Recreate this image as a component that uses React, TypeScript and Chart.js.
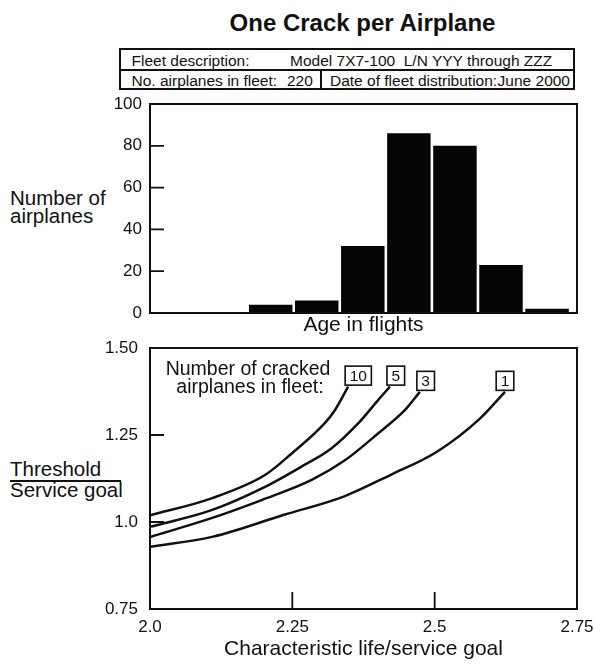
import React, { useEffect, useRef } from 'react';
import { Chart, registerables } from 'chart.js';

Chart.register(...registerables);

// ---------- data ----------
const ageBins = [1, 2, 3, 4, 5, 6, 7, 8, 9];
const airplaneCounts = [0, 0, 4, 6, 32, 86, 80, 23, 2];
const countTicks = [0, 20, 40, 60, 80, 100];

const crackLabels = ['10', '5', '3', '1'];
const life10 = [2.0, 2.108, 2.202, 2.249, 2.307, 2.325, 2.348];
const thr10 = [1.019, 1.068, 1.135, 1.197, 1.284, 1.322, 1.389];
const life5 = [2.0, 2.108, 2.202, 2.266, 2.319, 2.366, 2.401, 2.4215];
const thr5 = [0.986, 1.034, 1.101, 1.159, 1.212, 1.284, 1.351, 1.389];
const life3 = [2.0, 2.108, 2.196, 2.284, 2.343, 2.401, 2.448, 2.474];
const thr3 = [0.957, 1.011, 1.063, 1.121, 1.178, 1.255, 1.322, 1.374];
const life1 = [2.0, 2.111, 2.234, 2.34, 2.422, 2.504, 2.58, 2.6235];
const thr1 = [0.929, 0.958, 1.02, 1.073, 1.135, 1.202, 1.298, 1.374];

const lifeTicks = [2.0, 2.25, 2.5, 2.75];
const lifeTickLabels = ['2.0', '2.25', '2.5', '2.75'];
const ratioTicks = [0.75, 1.0, 1.25, 1.5];
const ratioTickLabels = ['0.75', '1.0', '1.25', '1.50'];

// ---------- style ----------
const INK = '#111111';
const FAMILY = "'Liberation Sans', Arial, Helvetica, sans-serif";
const labelAnchors = ['start', 'start', 'start', 'center'];

const makeFrame = (yTicks: number[], yLen: number, xTicks: number[], xLen: number) => ({
  id: 'frameTicks',
  afterDatasetsDraw(chart: any) {
    const { ctx, chartArea: a, scales } = chart;
    ctx.save();
    ctx.strokeStyle = INK;
    ctx.lineWidth = 2;
    ctx.strokeRect(a.left, a.top, a.right - a.left, a.bottom - a.top);
    ctx.lineWidth = 1.8;
    ctx.beginPath();
    yTicks.forEach((v) => {
      const p = scales.y.getPixelForValue(v);
      ctx.moveTo(a.left, p);
      ctx.lineTo(a.left + yLen, p);
    });
    xTicks.forEach((v) => {
      const p = scales.x.getPixelForValue(v);
      ctx.moveTo(p, a.bottom);
      ctx.lineTo(p, a.bottom - xLen);
    });
    ctx.stroke();
    ctx.restore();
  },
});

const makeEndLabels = (labels: string[], anchors: string[]) => ({
  id: 'endLabels',
  afterDatasetsDraw(chart: any) {
    const ctx = chart.ctx;
    ctx.save();
    ctx.font = `15.5px ${FAMILY}`;
    chart.data.datasets.forEach((_ds: any, i: number) => {
      const meta = chart.getDatasetMeta(i);
      const pt = meta.data[meta.data.length - 1];
      const tw = ctx.measureText(labels[i]).width;
      const w = tw + 9;
      const h = 19;
      const left = anchors[i] === 'center' ? pt.x - w / 2 : pt.x - 3;
      const top = pt.y - 1.5 - h;
      ctx.fillStyle = '#fff';
      ctx.fillRect(left, top, w, h);
      ctx.lineWidth = 1.6;
      ctx.strokeStyle = INK;
      ctx.strokeRect(left, top, w, h);
      ctx.fillStyle = INK;
      ctx.textAlign = 'center';
      ctx.textBaseline = 'middle';
      ctx.fillText(labels[i], left + w / 2, top + h / 2 + 1);
    });
    ctx.restore();
  },
});

const Txt = ({ x, base, size, children, align = 'left', bold = false }: any) => {
  const style: any = {
    position: 'absolute',
    top: base - 0.8465 * size,
    fontSize: size,
    lineHeight: `${size}px`,
    fontFamily: FAMILY,
    fontWeight: bold ? 'bold' : 'normal',
    color: INK,
    whiteSpace: 'pre',
  };
  if (align === 'center') {
    style.left = x - 300;
    style.width = 600;
    style.textAlign = 'center';
  } else if (align === 'right') {
    style.right = 594 - x;
    style.textAlign = 'right';
  } else {
    style.left = x;
  }
  return <div style={style}>{children}</div>;
};

export default function App() {
  const topRef = useRef<HTMLCanvasElement>(null);
  const botRef = useRef<HTMLCanvasElement>(null);

  useEffect(() => {
    Chart.defaults.font.family = FAMILY;
    Chart.defaults.color = INK;

    const top = new Chart(topRef.current!, {
      type: 'bar',
      data: {
        datasets: [
          {
            data: ageBins.map((b, i) => ({ x: b, y: airplaneCounts[i] })),
            backgroundColor: '#050505',
            borderWidth: 0,
            categoryPercentage: 0.944,
            barPercentage: 1,
          } as any,
        ],
      },
      options: {
        responsive: false,
        animation: false,
        layout: { padding: { left: 0, right: 17, top: 104, bottom: 325 } },
        plugins: { legend: { display: false }, tooltip: { enabled: false } },
        scales: {
          x: {
            type: 'linear',
            min: 0.38,
            max: 9.65,
            offset: false,
            grid: { display: false, drawTicks: false },
            border: { display: false },
            ticks: { display: false },
            title: {
              display: true,
              text: 'Age in flights',
              color: INK,
              font: { size: 21, family: FAMILY },
              padding: { top: 0, bottom: 2.5 },
            },
            afterFit: (s: any) => {
              s.height = 27;
              s.paddingLeft = 0;
              s.paddingRight = 0;
            },
          },
          y: {
            min: 0,
            max: 100,
            afterBuildTicks: (s: any) => {
              s.ticks = countTicks.map((v) => ({ value: v }));
            },
            grid: { display: false, drawTicks: false },
            border: { display: false },
            ticks: { color: INK, font: { size: 17, family: FAMILY }, padding: 8 },
            afterFit: (s: any) => {
              s.width = 150;
            },
          },
        },
      } as any,
      plugins: [makeFrame([20, 40, 60, 80], 14, [], 0)],
    });

    const mk = (xs: number[], ys: number[]) => xs.map((x, i) => ({ x, y: ys[i] }));
    const lineStyle = {
      borderColor: INK,
      borderWidth: 2.5,
      pointRadius: 0,
      fill: false,
      cubicInterpolationMode: 'monotone',
    };

    const bot = new Chart(botRef.current!, {
      type: 'line',
      data: {
        datasets: [
          { label: crackLabels[0], data: mk(life10, thr10), ...lineStyle },
          { label: crackLabels[1], data: mk(life5, thr5), ...lineStyle },
          { label: crackLabels[2], data: mk(life3, thr3), ...lineStyle },
          { label: crackLabels[3], data: mk(life1, thr1), ...lineStyle },
        ] as any,
      },
      options: {
        responsive: false,
        animation: false,
        layout: { padding: { left: 0, right: 17, top: 348, bottom: 0 } },
        plugins: { legend: { display: false }, tooltip: { enabled: false } },
        scales: {
          x: {
            type: 'linear',
            min: 2.0,
            max: 2.75,
            afterBuildTicks: (s: any) => {
              s.ticks = lifeTicks.map((v) => ({ value: v }));
            },
            grid: { display: false, drawTicks: false },
            border: { display: false },
            ticks: {
              color: INK,
              font: { size: 17, family: FAMILY },
              padding: 8,
              maxRotation: 0,
              callback: (_v: any, i: number) => lifeTickLabels[i],
            },
            title: {
              display: true,
              text: 'Characteristic life/service goal',
              color: INK,
              font: { size: 21, family: FAMILY },
              padding: { top: 0, bottom: 3.5 },
            },
            afterFit: (s: any) => {
              s.height = 56;
              s.paddingLeft = 0;
              s.paddingRight = 0;
            },
          },
          y: {
            min: 0.75,
            max: 1.5,
            afterBuildTicks: (s: any) => {
              s.ticks = ratioTicks.map((v) => ({ value: v }));
            },
            grid: { display: false, drawTicks: false },
            border: { display: false },
            ticks: {
              color: INK,
              font: { size: 17, family: FAMILY },
              padding: 12,
              callback: (_v: any, i: number) => ratioTickLabels[i],
            },
            afterFit: (s: any) => {
              s.width = 150;
            },
          },
        },
      } as any,
      plugins: [makeFrame([1.0, 1.25], 14, [2.25, 2.5], 17), makeEndLabels(crackLabels, labelAnchors)],
    });

    return () => {
      top.destroy();
      bot.destroy();
    };
  }, []);

  const line = (l: number, t: number, w: number, h: number) => (
    <div style={{ position: 'absolute', left: l, top: t, width: w, height: h, background: INK }} />
  );

  return (
    <div
      style={{
        position: 'absolute',
        left: 0,
        top: 0,
        width: 594,
        height: 665,
        background: '#fff',
        overflow: 'hidden',
        fontFamily: FAMILY,
      }}
    >
      <Txt x={362.5} base={31} size={24} bold align="center">One Crack per Airplane</Txt>

      {/* fleet table */}
      <div
        style={{
          position: 'absolute',
          left: 119,
          top: 48,
          width: 456,
          height: 42,
          border: `2px solid ${INK}`,
          boxSizing: 'border-box',
        }}
      />
      {line(119, 68.5, 456, 2)}
      {line(320, 69, 2, 21)}
      <Txt x={131.5} base={66.5} size={15.5}>Fleet description:</Txt>
      <Txt x={290} base={66.5} size={15.5}>Model 7X7-100  L/N YYY through ZZZ</Txt>
      <Txt x={131.5} base={86.5} size={15.5}>No. airplanes in fleet:</Txt>
      <Txt x={287} base={86.5} size={15.5}>220</Txt>
      <Txt x={330} base={86.5} size={15.5}>Date of fleet distribution:</Txt>
      <Txt x={570} base={86.5} size={15.5} align="right">June 2000</Txt>

      {/* left labels */}
      <Txt x={10} base={205} size={20.5}>Number of</Txt>
      <Txt x={10} base={223} size={20.5}>airplanes</Txt>
      <Txt x={10} base={476.7} size={20.5}>Threshold</Txt>
      {line(9.5, 480, 111.5, 1.6)}
      <Txt x={10} base={497.5} size={20.5}>Service goal</Txt>

      <canvas ref={topRef} width={594} height={665} style={{ position: 'absolute', left: 0, top: 0 }} />
      <canvas ref={botRef} width={594} height={665} style={{ position: 'absolute', left: 0, top: 0 }} />

      <Txt x={248} base={376} size={19.5} align="center">Number of cracked</Txt>
      <Txt x={250} base={394} size={19.5} align="center">airplanes in fleet:</Txt>
    </div>
  );
}
